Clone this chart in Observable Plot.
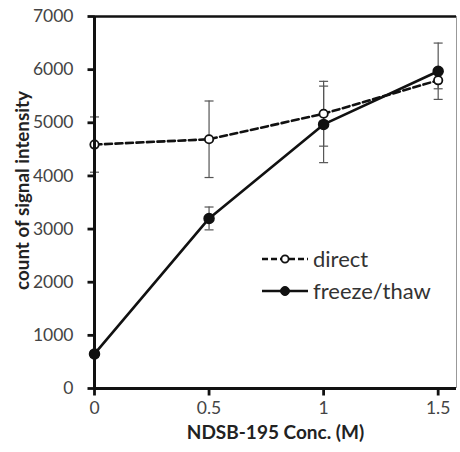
<!DOCTYPE html>
<html>
<head>
<meta charset="utf-8">
<script src="https://cdn.jsdelivr.net/npm/d3@7"></script>
<script src="https://cdn.jsdelivr.net/npm/@observablehq/plot@0.6"></script>
<style>
  html, body { margin: 0; padding: 0; background: #fff; }
  #wrap { position: relative; width: 460px; height: 452px; }
  #legend { position: absolute; left: 0; top: 0; }
</style>
</head>
<body>
<div id="wrap"></div>
<script>
// ---- data ----
const conc = [0, 0.5, 1, 1.5];
const direct = [4590, 4690, 5170, 5800];
const directErr = [520, 720, 610, 160];
const freeze = [650, 3200, 4970, 5970];
const freezeErr = [60, 215, 720, 530];
const yTicks = [0, 1000, 2000, 3000, 4000, 5000, 6000, 7000];
const xTicks = [0, 0.5, 1, 1.5];
const seriesNames = ["direct", "freeze/thaw"];
const xLabel = "NDSB-195 Conc. (M)";
const yLabel = "count of signal intensity";

const rows = [];
conc.forEach((c, i) => {
  rows.push({x: c, y: direct[i], err: directErr[i], s: seriesNames[0]});
  rows.push({x: c, y: freeze[i], err: freezeErr[i], s: seriesNames[1]});
});
const dRows = rows.filter(r => r.s === seriesNames[0]);
const fRows = rows.filter(r => r.s === seriesNames[1]);

const capSymbol = {draw(ctx) { ctx.moveTo(-4.5, 0); ctx.lineTo(4.5, 0); }};
const yTickSymbol = {draw(ctx) { ctx.moveTo(-7, 0); ctx.lineTo(0, 0); }};
const xTickSymbol = {draw(ctx) { ctx.moveTo(0, 0); ctx.lineTo(0, 7); }};
const FONT = "Lato, sans-serif";

const chart = Plot.plot({
  width: 460,
  height: 452,
  marginLeft: 94,
  marginRight: 4,
  marginTop: 16,
  marginBottom: 64,
  style: {fontFamily: FONT, fontSize: "17px", color: "#333", background: "#fff"},
  x: {domain: [0, 1.58]},
  y: {domain: [0, 7000]},
  marks: [
    // frame
    Plot.ruleX([1.58], {stroke: "#999", strokeWidth: 1}),
    Plot.ruleY([7000], {stroke: "#111", strokeWidth: 2.5}),
    // error bars
    Plot.ruleX(rows, {x: "x", y1: r => r.y - r.err, y2: r => r.y + r.err, stroke: "#555", strokeWidth: 1.2}),
    Plot.dot(rows, {x: "x", y: r => r.y - r.err, symbol: capSymbol, stroke: "#555", strokeWidth: 1.2, r: 4}),
    Plot.dot(rows, {x: "x", y: r => r.y + r.err, symbol: capSymbol, stroke: "#555", strokeWidth: 1.2, r: 4}),
    // lines
    Plot.line(dRows, {x: "x", y: "y", stroke: "#111", strokeWidth: 2.6, strokeDasharray: "7,3.5"}),
    Plot.line(fRows, {x: "x", y: "y", stroke: "#111", strokeWidth: 2.6}),
    Plot.dot(dRows, {x: "x", y: "y", r: 4.2, fill: "#fff", stroke: "#111", strokeWidth: 1.8}),
    Plot.dot(fRows, {x: "x", y: "y", r: 5, fill: "#111", stroke: "#111"}),
    // axes
    Plot.axisY(yTicks, {tickSize: 0, tickPadding: 21, fill: "#444", fontSize: 17.5, label: null, tickFormat: d => String(d)}),
    Plot.dot(yTicks, {x: () => 0, y: d => d, symbol: yTickSymbol, stroke: "#111", strokeWidth: 2.8}),
    Plot.axisX(xTicks, {tickSize: 0, tickPadding: 13, fill: "#444", fontSize: 17.5, label: null, tickFormat: d => String(d)}),
    Plot.dot(xTicks, {x: d => d, y: () => 0, symbol: xTickSymbol, stroke: "#111", strokeWidth: 2.8}),
    Plot.ruleX([0], {stroke: "#111", strokeWidth: 3}),
    Plot.ruleY([0], {stroke: "#111", strokeWidth: 3}),
    Plot.text([yLabel], {frameAnchor: "left", textAnchor: "middle", dx: -72, dy: -12, rotate: -90, fontWeight: "bold", fontSize: 18.8, fill: "#222"}),
    Plot.text([xLabel], {frameAnchor: "bottom", dy: 50, fontWeight: "bold", fontSize: 19, fill: "#222"})
  ]
});
const wrap = document.getElementById("wrap");
wrap.appendChild(chart);

// legend overlay
const lg = d3.select(wrap).append("svg").attr("id", "legend")
  .attr("width", 460).attr("height", 452)
  .style("font-family", FONT);
const items = [
  {name: seriesNames[0], dash: "6,3", fill: "#fff", r: 3.6, sw: 1.8, y: 259},
  {name: seriesNames[1], dash: null, fill: "#111", r: 4.5, sw: 1, y: 291}
];
items.forEach(it => {
  const g = lg.append("g").attr("transform", `translate(0,${it.y})`);
  g.append("line").attr("x1", 262).attr("x2", 308).attr("stroke", "#111")
    .attr("stroke-width", 2.6).attr("stroke-dasharray", it.dash);
  g.append("circle").attr("cx", 285).attr("r", it.r).attr("fill", it.fill)
    .attr("stroke", "#111").attr("stroke-width", it.sw);
  g.append("text").attr("x", 313).attr("dy", "0.35em").attr("font-size", 22)
    .attr("fill", "#333").text(it.name);
});
</script>
</body>
</html>
